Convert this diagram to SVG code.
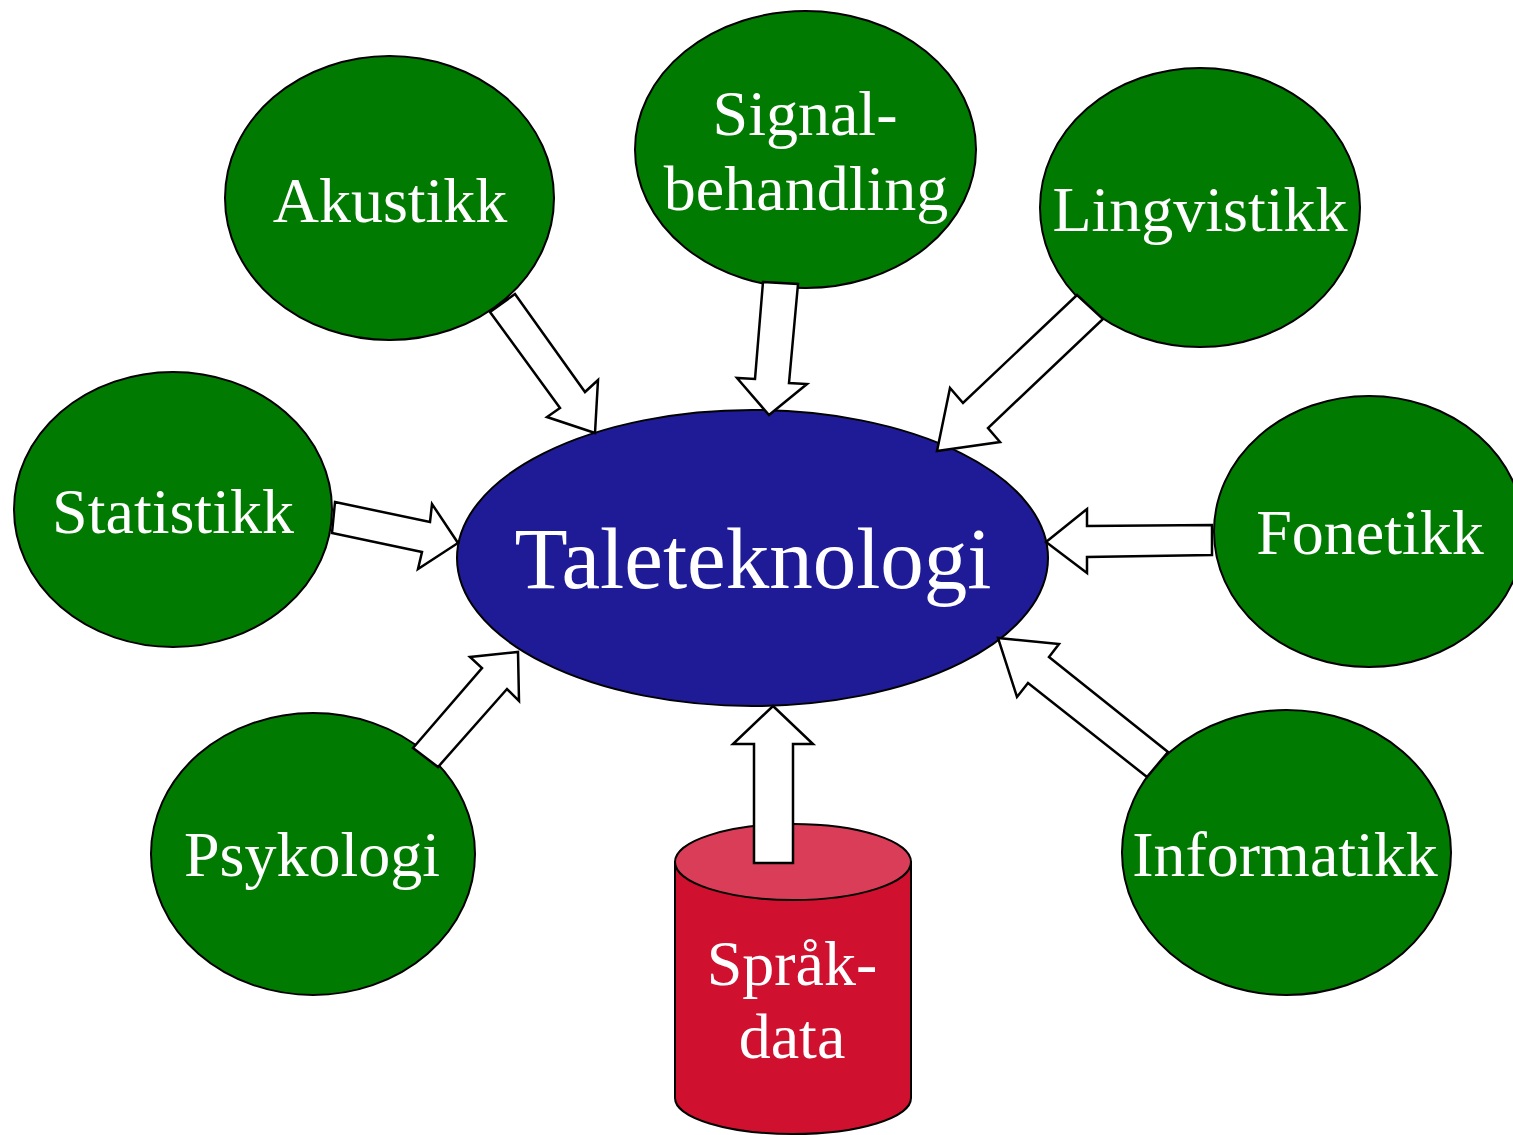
<svg xmlns="http://www.w3.org/2000/svg" width="1513" height="1135" viewBox="0 0 1513 1135">
  <style>
    .topic { fill: #007a00; stroke: #000; stroke-width: 2; }
    .core { fill: #1f1b96; stroke: #000; stroke-width: 2; }
    .label { fill: #fff; font-family: "Liberation Serif", "Times New Roman", serif; font-size: 64px; text-anchor: middle; }
    .big { font-size: 87px; }
    .arrow { fill: #fff; stroke: #000; stroke-width: 2.5; stroke-linejoin: miter; }
    .drum-body { fill: #cf102f; stroke: #000; stroke-width: 2; }
    .drum-top { fill: #da3d58; stroke: #000; stroke-width: 2; }
  </style>
  <rect width="1513" height="1135" fill="#fff"/>

  <g id="akustikk">
    <ellipse class="topic" cx="389.5" cy="198" rx="164.5" ry="142"/>
    <text class="label" x="390" y="222">Akustikk</text>
  </g>
  <g id="signalbehandling">
    <ellipse class="topic" cx="805.5" cy="149.5" rx="170.5" ry="138.5"/>
    <text class="label" x="805" y="135">Signal-</text>
    <text class="label" x="806" y="210">behandling</text>
  </g>
  <g id="lingvistikk">
    <ellipse class="topic" cx="1200" cy="207.5" rx="160" ry="139.5"/>
    <text class="label" x="1200" y="231">Lingvistikk</text>
  </g>
  <g id="statistikk">
    <ellipse class="topic" cx="173" cy="509.5" rx="159" ry="137.5"/>
    <text class="label" x="173" y="533">Statistikk</text>
  </g>
  <g id="fonetikk">
    <ellipse class="topic" cx="1369" cy="531.5" rx="155" ry="135.5"/>
    <text class="label" x="1370" y="554">Fonetikk</text>
  </g>
  <g id="psykologi">
    <ellipse class="topic" cx="313" cy="854" rx="162" ry="141"/>
    <text class="label" x="312" y="876">Psykologi</text>
  </g>
  <g id="informatikk">
    <ellipse class="topic" cx="1286.5" cy="852.5" rx="164.5" ry="142.5"/>
    <text class="label" x="1285" y="876">Informatikk</text>
  </g>
  <g id="taleteknologi">
    <ellipse class="core" cx="752.5" cy="558" rx="295.5" ry="148"/>
    <text class="label big" x="753" y="588">Taleteknologi</text>
  </g>
  <g id="spraakdata">
    <path class="drum-body" d="M675,862 L675,1098 A118,36 0 0 0 911,1098 L911,862 Z"/>
    <ellipse class="drum-top" cx="793" cy="862" rx="118" ry="38"/>
    <text class="label" x="792" y="985">Språk-</text>
    <text class="label" x="792" y="1058">data</text>
  </g>

  <g id="connectors">
    <polygon class="arrow" points="490,312 515,294 585,392 598,380 595,433 547,417 560,408"/>
    <polygon class="arrow" points="763,282 798,284 789,383 807,384 769,415 737,378 755,379"/>
    <polygon class="arrow" points="1077,295 1103,319 988,428 1000,442 937,451 950,388 963,403"/>
    <polygon class="arrow" points="335,502 430,522 432,504 458,543 418,569 422,552 332,533"/>
    <polygon class="arrow" points="1212,525 1212,555 1087,557 1087,573 1046,542 1087,509 1087,526"/>
    <polygon class="arrow" points="413,748 438,767 507,689 519,701 518,652 470,657 482,668"/>
    <polygon class="arrow" points="1168,752 1147,777 1028,683 1017,697 998,638 1059,644 1049,657"/>
    <polygon class="arrow" points="773,706 813,744 793,744 793,863 754,863 754,744 733,744"/>
  </g>
</svg>
